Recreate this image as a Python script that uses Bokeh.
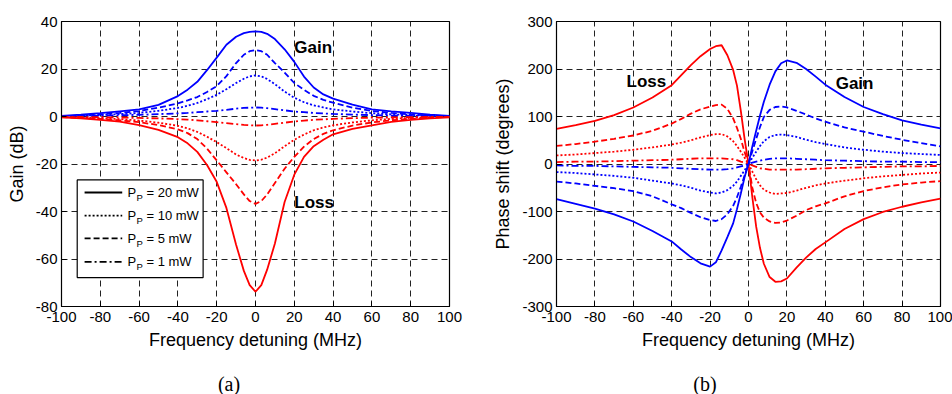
from bokeh.plotting import figure
from bokeh.layouts import row, column
from bokeh.models import Range1d, FixedTicker, Label, Div
from bokeh.embed import file_html
from bokeh.resources import INLINE

# ---------------- data ----------------
freq = [-100, -90, -80, -70, -60, -50, -40, -35, -30, -25, -20, -15, -10, -6, -3, 0,
        3, 6, 10, 15, 20, 25, 30, 35, 40, 50, 60, 70, 80, 90, 100]

# Gain (dB), panel (a)
gain_blue_20 = [0.3, 0.8, 1.4, 2.2, 3.0, 4.9, 8.6, 11.3, 14.6, 19.5, 24.8, 30.2, 33.6, 35.1, 35.6, 35.8,
                35.6, 34.8, 32.6, 28.3, 23.0, 16.8, 12.2, 9.3, 7.5, 5.0, 3.0, 2.2, 1.5, 0.8, 0.3]
gain_blue_10 = [0.1, 0.3, 0.6, 1.0, 1.5, 2.4, 3.6, 4.5, 5.7, 7.3, 9.1, 11.5, 14.1, 15.9, 16.9, 17.3,
                16.9, 15.8, 13.6, 10.5, 7.9, 6.0, 4.7, 3.8, 3.0, 2.1, 1.4, 0.9, 0.6, 0.3, 0.1]
gain_blue_5 = [0.1, 0.4, 0.9, 1.5, 2.3, 3.7, 5.5, 6.8, 8.2, 10.3, 12.8, 17.0, 22.5, 26.0, 27.5, 28.0,
               27.5, 26.0, 22.5, 18.5, 14.1, 11.2, 8.7, 7.0, 5.8, 3.7, 2.3, 1.5, 0.9, 0.4, 0.1]
gain_blue_1 = [0.1, 0.2, 0.3, 0.5, 0.7, 1.0, 1.3, 1.5, 1.8, 2.1, 2.4, 2.8, 3.3, 3.6, 3.7, 3.8,
               3.7, 3.5, 3.1, 2.6, 2.1, 1.8, 1.5, 1.3, 1.1, 0.8, 0.6, 0.4, 0.3, 0.2, 0.1]
gain_red_20 = [-0.4, -0.8, -1.4, -2.2, -3.6, -5.6, -8.7, -11.3, -14.9, -20.4, -27.5, -38.5, -54.0, -65.0, -71.0, -73.8,
               -71.0, -64.5, -53.5, -36.0, -24.5, -17.0, -12.5, -9.8, -7.5, -5.2, -3.7, -2.3, -1.4, -0.8, -0.4]
gain_red_10 = [-0.2, -0.4, -0.7, -1.1, -1.7, -2.6, -3.9, -5.0, -6.5, -8.5, -10.8, -13.3, -16.0, -17.5, -18.3, -18.5,
               -18.2, -17.3, -15.5, -12.5, -9.8, -7.6, -5.8, -4.6, -3.7, -2.5, -1.6, -1.0, -0.6, -0.3, -0.2]
gain_red_5 = [-0.3, -0.6, -1.0, -1.6, -2.4, -3.6, -5.4, -7.0, -9.5, -13.5, -18.5, -23.5, -28.5, -32.8, -35.6, -36.8,
              -35.6, -32.8, -28.0, -22.0, -17.0, -12.7, -9.5, -7.3, -5.8, -3.8, -2.5, -1.6, -1.0, -0.5, -0.2]
gain_red_1 = [-0.1, -0.2, -0.3, -0.4, -0.6, -0.8, -1.1, -1.3, -1.6, -2.0, -2.4, -2.8, -3.2, -3.5, -3.7, -3.8,
              -3.7, -3.5, -3.1, -2.6, -2.1, -1.7, -1.4, -1.2, -1.0, -0.7, -0.5, -0.4, -0.3, -0.2, -0.1]

# Phase shift (degrees), panel (b) -- finer sampling near zero detuning
freq_phase = [-100, -90, -80, -70, -60, -50, -40, -35, -30, -25, -20, -17, -14, -11, -8, -6, -4, -2, 0,
              2, 4, 6, 8, 11, 14, 17, 20, 25, 30, 35, 40, 50, 60, 70, 80, 90, 100]
phase_red_20 = [74, 82, 91, 103, 119, 140, 166, 187, 208, 227, 242, 248, 250, 229, 198, 165, 112, 52, 0,
                -70, -132, -177, -210, -238, -248, -247, -241, -218, -197, -179, -165, -137, -116, -101, -90, -81, -73]
phase_red_10 = [18, 20, 23, 26, 30, 35, 41, 45, 50, 56, 61, 63, 63, 58, 48, 38, 26, 13, 0,
                -16, -32, -45, -54, -60, -63, -62, -61, -56, -50, -45, -41, -35, -30, -26, -23, -20, -18]
phase_red_5 = [38, 42, 47, 53, 60, 70, 85, 95, 106, 115, 121, 124, 125, 116, 96, 76, 53, 25, 0,
               -50, -82, -102, -113, -121, -124, -123, -119, -109, -97, -89, -83, -68, -57, -49, -43, -39, -36]
phase_red_1 = [4, 5, 5, 6, 7, 8, 9, 10, 11, 12, 12, 12, 12, 11, 10, 8, 5, 3, 0,
               -3, -6, -9, -10, -12, -12, -12, -12, -12, -11, -10, -9, -8, -7, -6, -5, -5, -4]
phase_blue_20 = [-74, -84, -94, -106, -121, -141, -163, -180, -196, -209, -216, -207, -182, -154, -125, -95, -62, -27, 0,
                 37, 70, 102, 131, 167, 195, 212, 218, 213, 200, 184, 167, 141, 120, 105, 92, 83, 75]
phase_blue_10 = [-17, -19, -22, -25, -29, -35, -41, -45, -50, -56, -60, -62, -60, -55, -46, -37, -25, -13, 0,
                 13, 26, 38, 48, 57, 61, 62, 61, 57, 51, 46, 42, 35, 30, 26, 23, 21, 19]
phase_blue_5 = [-37, -41, -46, -51, -57, -68, -85, -93, -103, -112, -118, -120, -116, -106, -88, -70, -48, -24, 0,
                27, 53, 78, 99, 114, 120, 121, 119, 112, 104, 96, 89, 77, 68, 59, 51, 44, 37]
phase_blue_1 = [-3, -4, -4, -5, -6, -7, -8, -9, -10, -11, -12, -12, -12, -11, -9, -7, -5, -3, 0,
                3, 5, 7, 9, 11, 12, 12, 12, 11, 10, 9, 8, 7, 6, 5, 5, 4, 4]

x_ticks = [-100, -80, -60, -40, -20, 0, 20, 40, 60, 80, 100]
gain_ticks = [-80, -60, -40, -20, 0, 20, 40]
phase_ticks = [-300, -200, -100, 0, 100, 200, 300]

legend_labels = ["20 mW", "10 mW", "5 mW", "1 mW"]

# ---------------- styling ----------------
BLUE = "#0000ff"
RED = "#ff0000"
STYLES = {"solid": "solid", "dotted": "2 2", "dashed": "6 3", "dashdot": "7 3 2 3"}
LW = 1.8
SANS = "Liberation Sans"


def style_axes(p, xlabel, ylabel, ticks_y):
    p.xaxis.ticker = FixedTicker(ticks=x_ticks)
    p.yaxis.ticker = FixedTicker(ticks=ticks_y)
    p.xaxis.major_label_overrides = {t: str(t) for t in x_ticks}
    p.yaxis.major_label_overrides = {t: str(t) for t in ticks_y}
    for ax in (p.xaxis[0], p.yaxis[0]):
        ax.major_label_text_font = SANS
        ax.major_label_text_font_size = "15px"
        ax.major_label_text_color = "black"
        ax.axis_label_text_font = SANS
        ax.axis_label_text_font_size = "18px"
        ax.axis_label_text_font_style = "normal"
        ax.axis_label_text_color = "black"
        ax.major_tick_in = 5
        ax.major_tick_out = 0
        ax.minor_tick_line_color = None
        ax.axis_line_color = "black"
        ax.major_tick_line_color = "black"
    p.xaxis.axis_label = xlabel
    p.yaxis.axis_label = ylabel
    p.xaxis.major_label_standoff = 5
    p.yaxis.major_label_standoff = 4
    p.xaxis.axis_label_standoff = 5
    p.yaxis.axis_label_standoff = 6
    for g in (p.xgrid[0], p.ygrid[0]):
        g.grid_line_color = "#222222"
        g.grid_line_dash = "6 4"
        g.grid_line_width = 1
    p.outline_line_color = "black"
    p.outline_line_width = 1.2
    p.background_fill_color = "white"
    p.border_fill_color = "white"


def bold_label(p, x, y, text):
    p.add_layout(Label(x=x, y=y, text=text, text_font=SANS, text_font_style="bold",
                       text_font_size="17px", text_color="black",
                       text_baseline="middle", text_align="left"))


def caption(text, width, center_x):
    html = ('<div style="width:%dpx;text-align:center;font-family:\'Liberation Serif\';'
            'font-size:20px;line-height:22px;color:black;padding-top:9px;">%s</div>'
            % (2 * center_x, text))
    return Div(text=html, width=width, height=30, margin=0)


# ---------------- panel (a) ----------------
pa = figure(width=490, height=364, x_range=Range1d(-100, 100), y_range=Range1d(-80, 40),
            output_backend="svg", toolbar_location=None, margin=0,
            min_border_left=61, min_border_right=41, min_border_top=16, min_border_bottom=58)
style_axes(pa, "Frequency detuning (MHz)", "Gain (dB)", gain_ticks)

for ys, col, dash in [
    (gain_blue_1, BLUE, "dashdot"), (gain_blue_10, BLUE, "dotted"), (gain_blue_5, BLUE, "dashed"),
    (gain_blue_20, BLUE, "solid"),
    (gain_red_1, RED, "dashdot"), (gain_red_10, RED, "dotted"), (gain_red_5, RED, "dashed"),
    (gain_red_20, RED, "solid"),
]:
    pa.line(freq, ys, line_color=col, line_width=LW, line_dash=STYLES[dash])

bold_label(pa, 20, 29, "Gain")
bold_label(pa, 20, -36, "Loss")

# legend (manual, to allow the subscript)
LEG_BOX = dict(left=-91.9, right=-27.0, top=-26.7, bottom=-67.8)
LEG_ROWS = [-32.0, -41.7, -51.3, -61.2]
LEG_SAMPLE = (-88.1, -68.7)
LEG_TEXT_X = -66.0
pa.quad(left=[LEG_BOX["left"]], right=[LEG_BOX["right"]], top=[LEG_BOX["top"]],
        bottom=[LEG_BOX["bottom"]], fill_color="white", line_color="black", line_width=1.2)
for yrow, dash, lab in zip(LEG_ROWS, ["solid", "dotted", "dashed", "dashdot"], legend_labels):
    pa.line(list(LEG_SAMPLE), [yrow, yrow], line_color="black", line_width=LW, line_dash=STYLES[dash])
    pa.add_layout(Label(x=LEG_TEXT_X, y=yrow, text="P", text_font=SANS, text_font_size="13px",
                        text_color="black", text_baseline="middle", text_align="left"))
    pa.add_layout(Label(x=LEG_TEXT_X, y=yrow, x_offset=9, y_offset=-5, text="P", text_font=SANS,
                        text_font_size="9.5px", text_color="black",
                        text_baseline="middle", text_align="left"))
    pa.add_layout(Label(x=LEG_TEXT_X, y=yrow, x_offset=19, text="= " + lab, text_font=SANS,
                        text_font_size="13px", text_color="black",
                        text_baseline="middle", text_align="left"))

# ---------------- panel (b) ----------------
pb = figure(width=462, height=364, x_range=Range1d(-100, 100), y_range=Range1d(-300, 300),
            output_backend="svg", toolbar_location=None, margin=0,
            min_border_left=63, min_border_right=12, min_border_top=21, min_border_bottom=55)
style_axes(pb, "Frequency detuning (MHz)", "Phase shift (degrees)", phase_ticks)

for ys, col, dash in [
    (phase_red_1, RED, "dashdot"), (phase_red_10, RED, "dotted"), (phase_red_5, RED, "dashed"),
    (phase_red_20, RED, "solid"),
    (phase_blue_1, BLUE, "dashdot"), (phase_blue_10, BLUE, "dotted"), (phase_blue_5, BLUE, "dashed"),
    (phase_blue_20, BLUE, "solid"),
]:
    pb.line(freq_phase, ys, line_color=col, line_width=LW, line_dash=STYLES[dash])

bold_label(pb, -63.5, 173, "Loss")
bold_label(pb, 45.4, 170, "Gain")

cap_a = caption("(a)", 490, 229)
cap_b = caption("(b)", 462, 215)

layout = column(row(pa, pb, spacing=0, margin=0), row(cap_a, cap_b, spacing=0, margin=0),
                spacing=0, margin=0)
open("out.html", "w").write(file_html(layout, INLINE))
